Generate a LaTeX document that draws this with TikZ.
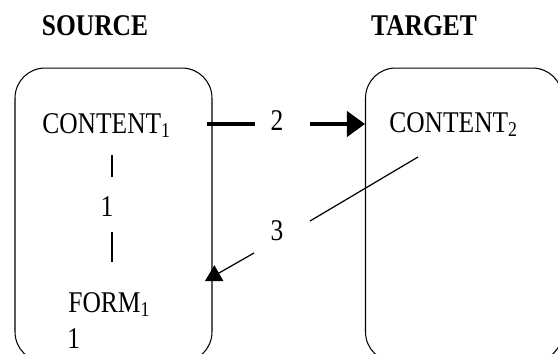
\documentclass[tikz,border=0pt]{standalone}
\usepackage{fontspec}
\setmainfont{Liberation Serif}
\usetikzlibrary{arrows.meta}

\newcommand{\tall}[1]{\scalebox{1}[1.18]{#1}}

\tikzstyle{heading} = [font=\fontsize{14.5}{17}\selectfont\bfseries, inner sep=0pt]
\tikzstyle{term} = [font=\fontsize{14.5}{17}\selectfont, inner sep=0pt, anchor=base west]
\tikzstyle{num} = [font=\fontsize{14.5}{17}\selectfont, inner sep=0pt]
\tikzstyle{side} = [rectangle, rounded corners=0.6cm, draw=black, line width=0.6pt, minimum width=3.94cm, minimum height=5.88cm]
\tikzstyle{thickarrow} = [line width=2.3pt]
\tikzstyle{thinarrow} = [line width=0.7pt]

\begin{document}
\begin{tikzpicture}[x=0.02cm, y=-0.02cm]
\useasboundingbox (0,0) rectangle (558,353);
\clip (0,0) rectangle (558,353);

\node at (95,26) (source) [heading] {\tall{SOURCE}};
\node at (424,26) (target) [heading] {\tall{TARGET}};

\node at (113.5,215) (srcbox) [side] {};
\node at (464,215) (tgtbox) [side] {};

\node at (42,133) (content1) [term] {\tall{CONTENT\textsubscript{1}}};
\node at (389,132) (content2) [term] {\tall{CONTENT\textsubscript{2}}};
\node at (68,312) (form1) [term] {\tall{FORM\textsubscript{1}}};
\node at (67,348) (formnum) [term] {\tall{1}};

\node at (107,207) (link1) [num] {\tall{1}};
\node at (277,121) (two) [num] {\tall{2}};
\node at (277,231) (three) [num] {\tall{3}};

% 1: content to form inside the source
\coordinate (l1a) at (112,155);
\coordinate (l1b) at (112,177);
\coordinate (l1c) at (112,232);
\coordinate (l1d) at (112,262);
\draw [thinarrow] (l1a) -- (l1b);
\draw [thinarrow] (l1c) -- (l1d);

% 2: source content over to target content
\coordinate (a2start) at (207,124);
\coordinate (a2mid) at (255,124);
\coordinate (a2rest) at (310,124);
\draw [thickarrow] (a2start) -- (a2mid);
\draw [thickarrow, -{Triangle[length=0.36cm, width=0.5cm]}] (a2rest) -- (tgtbox.west |- a2rest);

% 3: target content back to source form
\coordinate (a3start) at (418,157);
\coordinate (a3end) at (310,221);
\coordinate (a3rest) at (254,253);
\coordinate (a3tip) at (205,281);
\draw [thinarrow] (a3start) -- (a3end);
\draw [thinarrow, -{Triangle[length=0.32cm, width=0.36cm]}] (a3rest) -- (a3tip);

\end{tikzpicture}
\end{document}
